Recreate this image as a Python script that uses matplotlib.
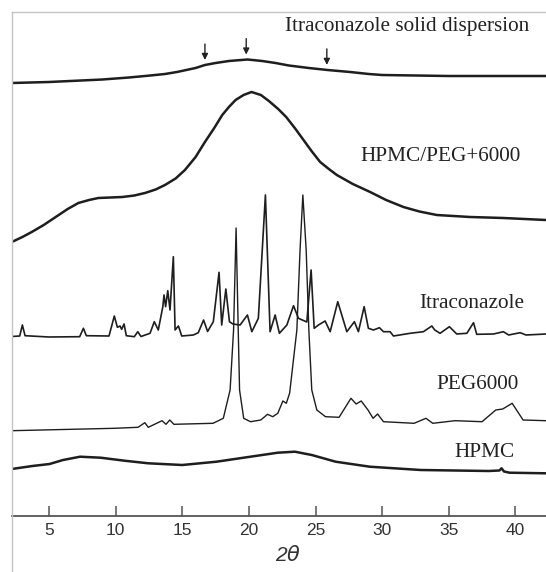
import numpy as np
import matplotlib
matplotlib.use("Agg")
import matplotlib.pyplot as plt
from matplotlib.lines import Line2D

plt.rcParams['font.family'] = 'sans-serif'
plt.rcParams['font.sans-serif'] = ['Liberation Sans', 'DejaVu Sans']

# 2theta / relative intensity
sd_tt = [2.2, 5.0, 9.0, 11.0, 12.6, 13.7, 14.6, 15.3, 16.0, 16.7, 17.5, 18.5,
         19.9, 21.0, 22.0, 23.0, 24.5, 25.9, 27.6, 29.0, 30.0, 35.0, 42.3]
sd_int = [7, 8, 10.5, 12.5, 14.5, 16, 18, 20, 22, 25, 27, 29,
          30.5, 29, 27, 24.5, 22, 20, 18, 16, 15, 14, 14]

hp_tt = [2.2, 3.0, 3.7, 4.6, 5.5, 6.4, 7.2, 8.0, 8.7, 9.6, 10.5, 11.4, 12.2,
         13.0, 13.7, 14.5, 15.2, 16.0, 16.7, 17.4, 18.0, 18.5, 19.0, 19.6,
         20.2, 20.9, 21.5, 22.2, 22.8, 23.5, 24.1, 24.7, 25.35, 26.0, 26.6,
         27.8, 29.1, 30.3, 31.6, 32.8, 34.1, 36.6, 39.1, 42.3]
hp_int = [8, 13, 18, 25, 33, 41, 47, 50, 52, 52.5, 53, 54.5, 57,
          60.5, 65, 71.5, 80, 93, 108, 122, 135, 143, 150, 155,
          158, 155, 149, 141, 133, 121, 110, 99, 88, 81, 75,
          66, 58, 50, 43, 38.5, 35, 33, 32, 30]

itr_tt = [2.2, 2.8, 3.0, 3.2, 5.0, 7.3, 7.58, 7.8, 9.5, 9.9, 10.13, 10.33,
          10.45, 10.63, 10.8, 11.4, 11.66, 11.9, 12.58, 12.9, 13.2, 13.54,
          13.63, 13.75, 13.91, 14.08, 14.33, 14.46, 14.71, 14.96, 15.83, 16.2,
          16.6, 16.9, 17.33, 17.76, 17.96, 18.27, 18.54, 18.8, 19.34, 19.89,
          20.22, 20.71, 21.24, 21.59, 21.97, 22.29, 22.85, 23.35, 23.72, 24.35,
          24.67, 24.9, 25.22, 25.72, 26.1, 26.67, 27.35, 27.92, 28.22, 28.65,
          28.97, 29.35, 29.8, 30.1, 30.6, 30.85, 32.1, 33.1, 33.73, 33.95,
          34.35, 35.05, 35.6, 36.36, 36.86, 37.1, 38.36, 39.1, 39.5, 40.36,
          40.8, 42.3]
itr_int = [3.5, 4, 15, 4.3, 3, 3.3, 11.7, 4.3, 4, 24, 12.7, 14,
           10.7, 16, 4.3, 3.3, 8.3, 3.5, 6.7, 18.3, 10, 33.3,
           45, 33.3, 49.3, 30, 83.3, 10, 14, 4, 5, 7.3,
           20, 8.5, 18.3, 67.7, 15, 51, 18.3, 16, 15, 25,
           8.3, 21.7, 145, 8.3, 25, 6.7, 15, 34.3, 21.7, 18,
           70, 11.7, 15, 19, 8.3, 38.3, 8.3, 18.3, 8.3, 33.3,
           11.7, 10, 12.3, 8.3, 8.3, 4, 6.7, 8.3, 14, 10,
           6.7, 13.3, 6, 6.7, 17.3, 5.7, 6, 8.3, 5, 7.3,
           5, 6]

peg_tt = [2.2, 9.9, 11.68, 12.19, 12.45, 13.48, 13.78, 14.06, 14.37, 17.31,
          18.08, 18.59, 18.85, 19.04, 19.2, 19.3, 19.61, 20.12, 20.89, 21.4,
          21.79, 22.17, 22.55, 22.81, 23.06, 23.6, 23.84, 24.05, 24.3, 24.5,
          24.72, 25.1, 25.75, 26.77, 27.66, 28.05, 28.43, 28.94, 29.32, 29.66,
          30.1, 32.4, 33.29, 33.8, 35.47, 37.5, 38.53, 39.05, 39.76, 40.58, 42.3]
peg_int = [1.3, 3.7, 4.7, 9.3, 4.7, 11.3, 7.7, 12, 7.7, 8.7,
           13.7, 42, 102, 204, 102, 42, 13.7, 10.3, 12, 17.7,
           15.3, 18.7, 31, 28.7, 39, 102, 182, 237, 182, 102,
           42, 22, 15.3, 14.7, 33.7, 28, 31, 22, 13.7, 18,
           10.3, 8.7, 13.7, 8.7, 11.3, 10.3, 22, 23, 28.7, 12, 11.3]

hpmc_tt = [2.2, 3.75, 5.04, 6.05, 7.33, 8.87, 10.66, 12.45, 15.0, 17.57,
           20.12, 22.17, 23.45, 24.72, 26.51, 29.07, 32.9, 38.0, 38.8, 38.96,
           39.15, 39.56, 42.3]
hpmc_int = [6, 9, 11, 15, 18.3, 17.3, 14.3, 11.7, 10, 13.3,
            18.3, 22.3, 23.3, 20, 13.3, 8.3, 5, 4, 4.5, 6.7,
            3.5, 2.3, 1.7]

labels = ['Itraconazole solid dispersion', 'HPMC/PEG+6000', 'Itraconazole',
          'PEG6000', 'HPMC']
arrow_tt = [16.7, 19.8, 25.85]

# stacking offsets and label spots (layout only)
offsets = [425.7, 265.7, 175.7, 83.7, 40.7]
widths = [1.8, 1.8, 1.2, 1.0, 1.8]
label_xy = [(31.9, 489), (34.35, 359), (36.76, 212), (37.13, 131), (37.66, 63)]

W, H = 546, 572
fig = plt.figure(figsize=(W / 100, H / 100), dpi=100)
ax = fig.add_axes([12 / W, (H - 515.7) / H, 1 - 12 / W, (515.7 - 12) / H])

series = [(sd_tt, sd_int), (hp_tt, hp_int), (itr_tt, itr_int),
          (peg_tt, peg_int), (hpmc_tt, hpmc_int)]
for (tt, inten), off, lw in zip(series, offsets, widths):
    ax.plot(tt, np.array(inten) + off, color='#1e1e1e', lw=lw,
            solid_joinstyle='round')

for (x, y), lab in zip(label_xy, labels):
    ax.text(x, y, lab, ha='center', va='center', fontsize=15.3,
            family='Liberation Serif', color='#222222')

for a in arrow_tt:
    tip = offsets[0] + np.interp(a, sd_tt, sd_int) + 5
    ax.annotate('', xy=(a, tip), xytext=(a, tip + 16),
                arrowprops=dict(arrowstyle='-|>', color='#222222', lw=1.0,
                                mutation_scale=9, shrinkA=0, shrinkB=0))

ax.set_xlim(2.22, 42.3)
ax.set_ylim(0, 503.7)
ax.set_xticks([5, 10, 15, 20, 25, 30, 35, 40])
ax.set_yticks([])
ax.tick_params(axis='x', direction='in', length=7, width=1.1, color='#555555',
               labelsize=12.5, labelcolor='#333333', pad=5)
for s in ['right', 'left']:
    ax.spines[s].set_visible(False)
ax.spines['top'].set_color('#c4c4c4')
ax.spines['top'].set_linewidth(1.0)
ax.spines['bottom'].set_color('#555555')
ax.spines['bottom'].set_linewidth(1.3)

# scan frame on the left edge
fig.add_artist(Line2D([12 / W, 12 / W], [0, (H - 12) / H], color='#c4c4c4',
                      lw=1.0, transform=fig.transFigure))

fig.text(288 / W, 1 - 555 / H, r'2$\theta$', ha='center', va='center',
         fontsize=15, style='italic', color='#333333')

fig.savefig('out.png', dpi=100)
